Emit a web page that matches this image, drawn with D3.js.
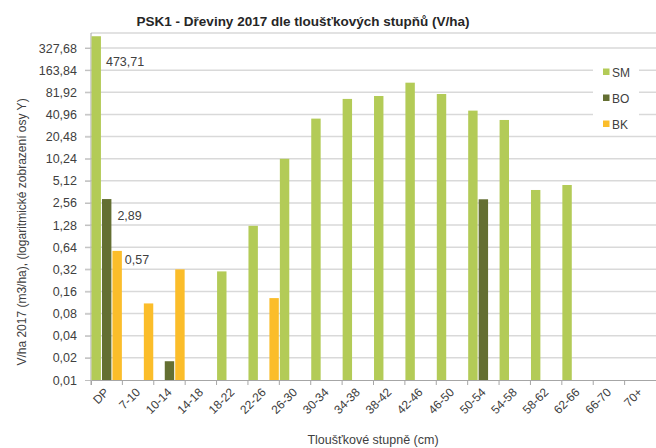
<!DOCTYPE html>
<html>
<head>
<meta charset="utf-8">
<script src="https://cdn.jsdelivr.net/npm/d3@7"></script>
<style>
  body { margin: 0; background: #fff; }
  text { font-family: "Liberation Sans", "DejaVu Sans", sans-serif; }
</style>
</head>
<body>
<div id="chart"></div>
<script>
(function(d3) {
  'use strict';

  var categories = ['DP', '7-10', '10-14', '14-18', '18-22', '22-26', '26-30', '30-34', '34-38',
                    '38-42', '42-46', '46-50', '50-54', '54-58', '58-62', '62-66', '66-70', '70+'];
  var seriesNames = ['SM', 'BO', 'BK'];
  // values in m3/ha, null = no bar
  var sm = [473.71, null, null, null, 0.30, 1.25, 10.2, 35.9, 66.5, 72.9, 110.6, 77.6, 46.1, 34.4, 3.84, 4.49, null, null];
  var bo = [2.89, null, 0.018, null, null, null, null, null, null, null, null, null, 2.87, null, null, null, null, null];
  var bk = [0.57, 0.11, 0.32, null, null, 0.13, null, null, null, null, null, null, null, null, null, null, null, null];
  var yTicks = [0.01, 0.02, 0.04, 0.08, 0.16, 0.32, 0.64, 1.28, 2.56, 5.12, 10.24, 20.48, 40.96, 81.92, 163.84, 327.68];
  var yTickLabels = ['0,01', '0,02', '0,04', '0,08', '0,16', '0,32', '0,64', '1,28', '2,56', '5,12',
                     '10,24', '20,48', '40,96', '81,92', '163,84', '327,68'];
  // labelled values (DP column)
  var labels = [{s: 'SM', i: 0, text: '473,71'}, {s: 'BO', i: 0, text: '2,89'}, {s: 'BK', i: 0, text: '0,57'}];
  // where each label sits relative to its bar top (moved by hand in the original)
  var labelOffsets = [[5, 30], [6, 21], [3, 13]];

  var colors = {SM: '#b3cb57', BO: '#646f32', BK: '#fbbd2a'};
  var values = {SM: sm, BO: bo, BK: bk};

  var width = 656, height = 448;
  var left = 91, right = 656, bottom = 380, top = 33;
  var textColor = '#404040';

  var svg = d3.select('#chart').append('svg')
    .attr('width', width)
    .attr('height', height);

  var x = d3.scaleBand().domain(categories).range([left, right]).padding(0);
  var xs = d3.scaleBand().domain(seriesNames).range([0, x.bandwidth()])
    .paddingInner(0.1).paddingOuter(0.05);
  var y = d3.scaleLog().base(2).domain([0.01, 327.68]).range([bottom, 48]);

  // grid
  svg.append('g').selectAll('line')
    .data(yTicks.slice(1))
    .enter().append('line')
      .attr('x1', left - 6).attr('x2', right)
      .attr('y1', function(d) { return y(d); })
      .attr('y2', function(d) { return y(d); })
      .attr('stroke', '#d9d9d9')
      .attr('stroke-width', 1.5);
  svg.append('line')
    .attr('x1', left).attr('x2', right).attr('y1', top).attr('y2', top)
    .attr('stroke', '#d9d9d9').attr('stroke-width', 1.5);

  // y axis
  var yAxis = d3.axisLeft(y)
    .tickValues(yTicks)
    .tickSize(6)
    .tickPadding(8)
    .tickFormat(function(d, i) { return yTickLabels[i]; });
  var gy = svg.append('g')
    .attr('transform', 'translate(' + left + ',0)')
    .call(yAxis);
  gy.select('.domain').attr('stroke', '#a6a6a6').attr('d', 'M0,' + top + 'V' + bottom);
  gy.selectAll('.tick line').attr('stroke', '#bfbfbf');
  gy.selectAll('.tick text').attr('fill', textColor).style('font-size', '12.5px');

  // bars
  seriesNames.forEach(function(s) {
    var data = values[s].map(function(v, i) { return {cat: categories[i], v: v}; })
      .filter(function(d) { return d.v != null; });
    svg.append('g').selectAll('rect')
      .data(data)
      .enter().append('rect')
        .attr('x', function(d) { return x(d.cat) + xs(s); })
        .attr('y', function(d) { return y(d.v); })
        .attr('width', xs.bandwidth())
        .attr('height', function(d) { return bottom - y(d.v); })
        .attr('fill', colors[s]);
  });

  // x axis
  var xAxis = d3.axisBottom(x).tickSize(5).tickFormat('');
  var gx = svg.append('g')
    .attr('transform', 'translate(0,' + bottom + ')')
    .call(xAxis);
  gx.select('.domain').attr('stroke', '#a6a6a6');
  gx.selectAll('.tick line')
    .attr('stroke', '#a6a6a6')
    .attr('transform', 'translate(' + (-x.bandwidth() / 2) + ',0)');

  svg.append('g').selectAll('text')
    .data(categories)
    .enter().append('text')
      .attr('transform', function(d) {
        return 'translate(' + (x(d) + x.bandwidth() / 2 + 3) + ',' + (bottom + 13) + ') rotate(-45)';
      })
      .attr('text-anchor', 'end')
      .attr('fill', textColor)
      .style('font-size', '12px')
      .text(function(d) { return d; });

  // data labels
  svg.append('g').selectAll('text')
    .data(labels)
    .enter().append('text')
      .attr('x', function(d, i) { return x(categories[d.i]) + xs(d.s) + xs.bandwidth() + labelOffsets[i][0]; })
      .attr('y', function(d, i) { return y(values[d.s][d.i]) + labelOffsets[i][1]; })
      .attr('fill', textColor)
      .style('font-size', '12.5px')
      .text(function(d) { return d.text; });

  // legend
  var lg = svg.append('g').attr('transform', 'translate(593,62)');
  lg.append('rect').attr('width', 46).attr('height', 70).attr('fill', '#fff');
  seriesNames.forEach(function(s, i) {
    lg.append('rect')
      .attr('x', 10).attr('y', 6.5 + i * 26)
      .attr('width', 6.5).attr('height', 6.5)
      .attr('fill', colors[s]);
    lg.append('text')
      .attr('x', 19).attr('y', 14.5 + i * 26)
      .attr('fill', textColor)
      .style('font-size', '12px')
      .text(s);
  });

  // titles
  svg.append('text')
    .attr('x', 303).attr('y', 26)
    .attr('text-anchor', 'middle')
    .attr('fill', '#262626')
    .style('font-size', '13.5px')
    .style('font-weight', 'bold')
    .text('PSK1 - Dřeviny 2017  dle tloušťkových stupňů (V/ha)');

  svg.append('text')
    .attr('transform', 'translate(26,232) rotate(-90)')
    .attr('text-anchor', 'middle')
    .attr('fill', textColor)
    .style('font-size', '12px')
    .text('V/ha 2017 (m3/ha),  (logaritmické zobrazení osy Y)');

  svg.append('text')
    .attr('x', 373).attr('y', 444)
    .attr('text-anchor', 'middle')
    .attr('fill', textColor)
    .style('font-size', '12.5px')
    .text('Tloušťkové stupně (cm)');
})(window.d3);
</script>
</body>
</html>
